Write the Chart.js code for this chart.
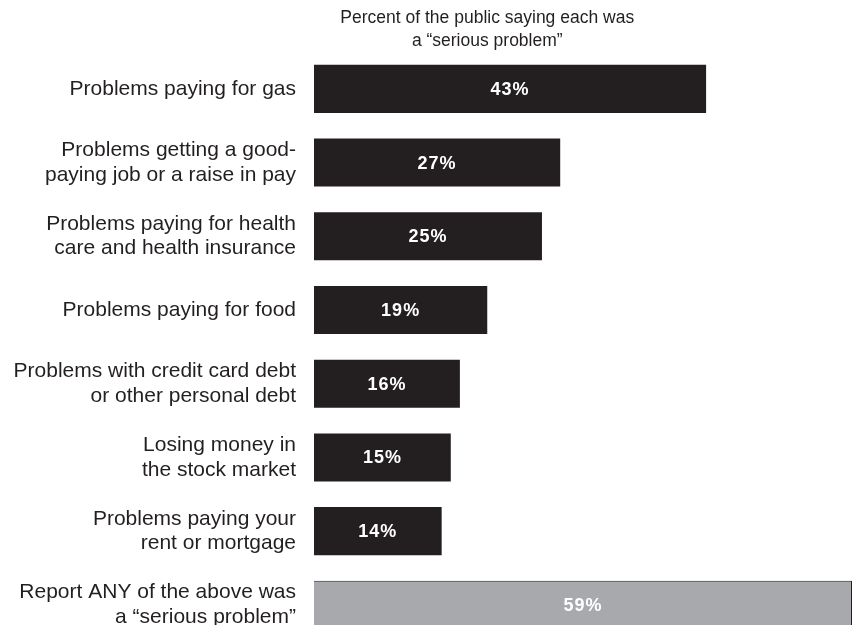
<!DOCTYPE html>
<html>
<head>
<meta charset="utf-8">
<script src="https://cdn.jsdelivr.net/npm/chart.js@4"></script>
<style>
  html, body { margin: 0; padding: 0; background: #fff; overflow: hidden; }
  .wrap { position: relative; width: 853px; height: 672px; }
</style>
</head>
<body>
<div class="wrap"><canvas id="myChart"></canvas></div>
<script>
const categories = [
  ['Problems paying for gas'],
  ['Problems getting a good-', 'paying job or a raise in pay'],
  ['Problems paying for health', 'care and health insurance'],
  ['Problems paying for food'],
  ['Problems with credit card debt', 'or other personal debt'],
  ['Losing money in', 'the stock market'],
  ['Problems paying your', 'rent or mortgage'],
  ['Report ANY of the above was', 'a \u201cserious problem\u201d']
];
const values = [43, 27, 25, 19, 16, 15, 14, 59];
const titleLines = ['Percent of the public saying each was', 'a \u201cserious problem\u201d'];

const FONT = "'Liberation Sans', Arial, sans-serif";
const ink = '#231f20';
const grey = '#a7a9ac';

// value labels inside each bar
const valueLabels = {
  id: 'valueLabels',
  afterDatasetsDraw(chart) {
    const c = chart.ctx;
    const meta = chart.getDatasetMeta(0);
    c.save();
    c.fillStyle = '#ffffff';
    c.font = 'bold 18px ' + FONT;
    c.letterSpacing = '1px';
    c.textAlign = 'center';
    c.textBaseline = 'middle';
    meta.data.forEach((bar, i) => {
      const x = (bar.base + bar.x) / 2;
      c.fillText(values[i] + '%', x, bar.y + 1);
    });
    c.restore();
  }
};

// two-line heading above the bars
const heading = {
  id: 'heading',
  afterDraw(chart) {
    const c = chart.ctx;
    const xs = chart.scales.x;
    const cx = xs.getPixelForValue(19);
    c.save();
    c.fillStyle = ink;
    c.font = '17.5px ' + FONT;
    c.textAlign = 'center';
    c.textBaseline = 'middle';
    c.fillText(titleLines[0], cx, 18);
    c.fillText(titleLines[1], cx, 41);
    c.restore();
  }
};

new Chart(document.getElementById('myChart'), {
  type: 'bar',
  data: {
    labels: categories,
    datasets: [{
      data: values,
      backgroundColor: values.map((v, i) => i === values.length - 1 ? grey : ink),
      borderColor: ink,
      borderWidth: values.map((v, i) => i === values.length - 1 ? 1 : 0),
      barPercentage: 0.652,
      categoryPercentage: 1
    }]
  },
  options: {
    indexAxis: 'y',
    responsive: true,
    maintainAspectRatio: false,
    animation: false,
    layout: { padding: { top: 52, bottom: 8, left: 0, right: 1 } },
    scales: {
      x: {
        display: false,
        min: 0,
        max: 59
      },
      y: {
        afterFit(scale) { scale.width = 314; },
        grid: { display: false, drawTicks: false },
        border: { display: false },
        ticks: {
          padding: 18,
          color: ink,
          font: { family: FONT, size: 21, lineHeight: 1.17 }
        }
      }
    },
    plugins: {
      legend: { display: false },
      tooltip: { enabled: false }
    }
  },
  plugins: [valueLabels, heading]
});
</script>
</body>
</html>
